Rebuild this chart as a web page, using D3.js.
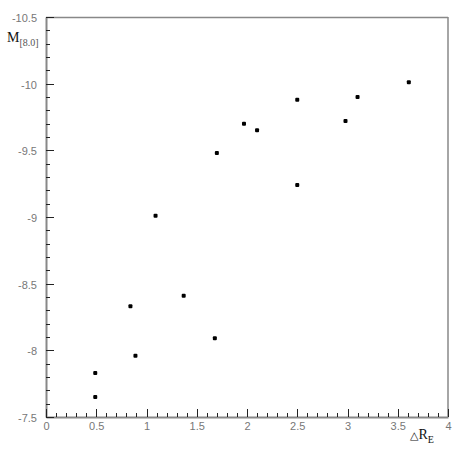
<!DOCTYPE html>
<html>
<head>
<meta charset="utf-8">
<script src="https://cdn.jsdelivr.net/npm/d3@7"></script>
<style>
  body { margin: 0; background: #fff; }
</style>
</head>
<body>
<svg id="chart"></svg>
<script>
// data
const deltaR = [0.49, 0.49, 0.84, 0.89, 1.09, 1.37, 1.68, 1.70, 1.97, 2.10, 2.50, 2.50, 2.98, 3.10, 3.61];
const mag    = [-7.65, -7.83, -8.33, -7.96, -9.01, -8.41, -8.09, -9.48, -9.70, -9.65, -9.88, -9.24, -9.72, -9.90, -10.01];
const xTicks = [0, 0.5, 1, 1.5, 2, 2.5, 3, 3.5, 4];
const yTicks = [-10.5, -10, -9.5, -9, -8.5, -8, -7.5];

// set positioning properties
const width = 462,
    height = 452;
const xStart = 46,
    xEnd = 448,
    yTop = 17,
    yBottom = 417;

const svg = d3.select("#chart")
    .attr("width", width)
    .attr("height", height);

svg.append("rect")
    .attr("width", width)
    .attr("height", height)
    .attr("fill", "#fff");

// scales
const x = d3.scaleLinear()
    .domain([0, 4])
    .range([xStart, xEnd]);

const y = d3.scaleLinear()
    .domain([-7.5, -10.5])
    .range([yBottom, yTop]);

const axisColor = "#888";
const tickColor = "#222";
const labelColor = "#777";

// frame: top and right lines
svg.append("line")
    .attr("x1", xStart).attr("x2", xEnd)
    .attr("y1", yTop + 0.5).attr("y2", yTop + 0.5)
    .attr("stroke", axisColor).attr("stroke-width", 1.5);
svg.append("line")
    .attr("x1", xEnd).attr("x2", xEnd)
    .attr("y1", yTop).attr("y2", yBottom)
    .attr("stroke", axisColor).attr("stroke-width", 1.5);

// axes: lines and labels
const xAxis = svg.append("g")
    .attr("transform", "translate(0," + yBottom + ")")
    .call(d3.axisBottom(x).tickValues(xTicks).tickFormat(d => String(d)).tickSize(0).tickPadding(5));

const yAxis = svg.append("g")
    .attr("transform", "translate(" + xStart + ",0)")
    .call(d3.axisLeft(y).tickValues(yTicks).tickFormat(d => String(d)).tickSize(0).tickPadding(9));

[xAxis, yAxis].forEach(g => {
    g.attr("font-family", "'Liberation Sans', Arial, sans-serif")
        .attr("font-size", 11);
    g.select(".domain").attr("stroke", axisColor).attr("stroke-width", 2);
    g.selectAll(".tick line").remove();
    g.selectAll(".tick text").attr("fill", labelColor);
});
xAxis.selectAll(".tick text").attr("dy", "0.75em");
yAxis.selectAll(".tick text").attr("dy", "0.42em");

// tick marks (minor every 0.1, major every 0.5), drawn inward as thin rects
const xMinor = d3.range(0, 41).map(d => d / 10);
const yMinor = d3.range(0, 31).map(d => -7.5 - d / 10);
const isMajor = v => Math.abs(v * 2 - Math.round(v * 2)) < 1e-6;

const ticks = svg.append("g").attr("class", "ticks").attr("fill", tickColor);

ticks.selectAll("rect.xt")
    .data(xMinor)
    .enter()
    .append("rect")
    .attr("class", "xt")
    .attr("x", d => Math.round(x(d)))
    .attr("y", d => yBottom - (isMajor(d) ? 8 : 4))
    .attr("width", 1)
    .attr("height", d => isMajor(d) ? 8 : 4);

ticks.selectAll("rect.yt")
    .data(yMinor)
    .enter()
    .append("rect")
    .attr("class", "yt")
    .attr("x", xStart)
    .attr("y", d => Math.round(y(d)))
    .attr("width", d => isMajor(d) ? 8 : 4)
    .attr("height", 1);

// points
svg.append("g")
    .selectAll("rect")
    .data(deltaR.map((d, i) => ({x: d, y: mag[i]})))
    .enter()
    .append("rect")
    .attr("x", d => x(d.x) - 2)
    .attr("y", d => y(d.y) - 2)
    .attr("width", 4)
    .attr("height", 4)
    .attr("rx", 1)
    .attr("fill", "#000");

// axis titles
const yTitle = svg.append("text")
    .attr("x", 7)
    .attr("y", 42)
    .attr("font-family", "'Liberation Serif', serif")
    .attr("font-size", 14)
    .attr("fill", "#111");
yTitle.append("tspan").text("M");
yTitle.append("tspan")
    .attr("font-size", 10)
    .attr("dy", 4)
    .attr("fill", "#555")
    .text("[8.0]");

const xTitle = svg.append("text")
    .attr("x", 410)
    .attr("y", 439)
    .attr("font-family", "'Liberation Serif', serif")
    .attr("font-size", 14)
    .attr("fill", "#111");
xTitle.append("tspan").attr("font-family", "'DejaVu Sans', sans-serif").attr("font-size", 11).text("\u25B3");
xTitle.append("tspan").text("R");
xTitle.append("tspan")
    .attr("font-size", 10)
    .attr("dy", 4)
    .text("E");
</script>
</body>
</html>
